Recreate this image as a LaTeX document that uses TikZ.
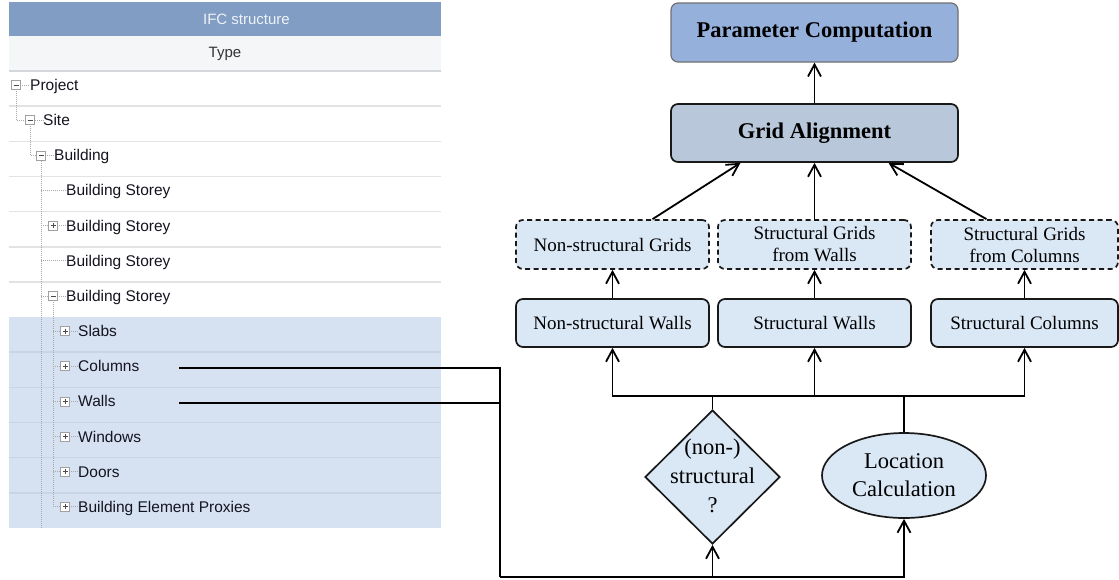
\documentclass[tikz,border=0pt]{standalone}
\usepackage{fontspec}
\setmainfont{Liberation Serif}
\newfontfamily\tabfont{Liberation Sans}
\usetikzlibrary{arrows.meta,shapes.geometric,calc}
\definecolor{hdr}{HTML}{819DC3}
\definecolor{hdrtxt}{HTML}{EEF2F8}
\definecolor{typebg}{HTML}{F4F6F8}
\definecolor{sepdark}{HTML}{D3D6DA}
\definecolor{sepline}{HTML}{E3E3E3}
\definecolor{rowblue}{HTML}{D6E2F1}
\definecolor{sepblue}{HTML}{C9D5E4}
\definecolor{tabink}{HTML}{141420}
\definecolor{dotcol}{HTML}{A8A8A8}
\definecolor{iconborder}{HTML}{A0A0A0}
\definecolor{pcfill}{HTML}{96B0DC}
\definecolor{pcdraw}{HTML}{707070}
\definecolor{gafill}{HTML}{B8C8DA}
\definecolor{lightfill}{HTML}{DAE7F5}
\newcommand{\tminus}[3]{\node[tbox] (#1) at (#2,#3) {};\draw[tsign] ($(#1.center)+(-2.5,0)$) -- ($(#1.center)+(2.5,0)$);}
\newcommand{\tplus}[3]{\node[tbox] (#1) at (#2,#3) {};\draw[tsign] ($(#1.center)+(-2.5,0)$) -- ($(#1.center)+(2.5,0)$);\draw[tsign] ($(#1.center)+(0,-2.5)$) -- ($(#1.center)+(0,2.5)$);}
\begin{document}
\begin{tikzpicture}[x=1pt,y=-1pt,
  tabtxt/.style={anchor=base west,inner sep=0pt,font=\tabfont\fontsize{15.5}{17}\selectfont,text=tabink},
  tdot/.style={draw=dotcol,line width=0.8pt,dash pattern=on 1pt off 1pt},
  tbox/.style={rectangle,draw=iconborder,fill=white,minimum size=9pt,inner sep=0pt,line width=0.6pt},
  tsign/.style={draw=black!70,line width=0.8pt},
  rbox/.style={rectangle,rounded corners=7pt,inner sep=2pt,align=center,line width=1.7pt,draw=black!90},
  pcbox/.style={rbox,fill=pcfill,draw=pcdraw,line width=1.2pt,minimum width=287pt,minimum height=59pt,font=\bfseries\fontsize{22.5}{26}\selectfont},
  gabox/.style={rbox,fill=gafill,minimum width=287pt,minimum height=58pt,font=\bfseries\fontsize{22.5}{26}\selectfont},
  gridbox/.style={rbox,fill=lightfill,dashed,dash pattern=on 5pt off 3.5pt,minimum width=193pt,minimum height=49pt,font=\fontsize{19}{22}\selectfont},
  elbox/.style={rbox,fill=lightfill,minimum width=193pt,minimum height=48pt,font=\fontsize{19}{22}\selectfont},
  diabox/.style={diamond,aspect=1,draw=black!90,fill=lightfill,line width=1.7pt,minimum width=135pt,minimum height=134pt,inner sep=0pt},
  ellbox/.style={ellipse,draw=black!90,fill=lightfill,line width=1.7pt,minimum width=164pt,minimum height=85pt,inner sep=0pt,align=center,font=\fontsize{22.5}{28}\selectfont},
  bigtxt/.style={align=center,inner sep=0pt,font=\fontsize{22.5}{29}\selectfont},
  conn/.style={draw=black,line width=1.8pt},
  arr/.style={conn,-{Straight Barb[length=12pt,width=13pt,line width=1.8pt]}}]
\useasboundingbox (0,0) rectangle (1119,579);
% ---------------- left table ----------------
\fill[hdr] (9,2) rectangle (441,36);
\node[font=\tabfont\fontsize{15}{17}\selectfont,text=hdrtxt,inner sep=0pt] (hdrtext) at (246.5,19) {IFC structure};
\fill[typebg] (9,36) rectangle (441,70);
\node[font=\tabfont\fontsize{15}{17}\selectfont,text=black!80,inner sep=0pt] (typetext) at (225,54) {Type};
\draw[sepdark,line width=2pt] (9,71) -- (441,71);
\fill[rowblue] (9,317.05) rectangle (441,528);
\foreach \yy in {106.15,141.3,176.45,211.6,246.75,281.9}
  \draw[sepline,line width=1.5pt] (9,\yy) -- (441,\yy);
\foreach \yy in {352.2,387.35,422.5,457.65,492.8}
  \draw[sepblue,line width=1.5pt] (9,\yy) -- (441,\yy);
% dotted tree lines
\draw[tdot] (16,85) -- (16,120.15) -- (30,120.15) -- (43,120.15);
\draw[tdot] (16,85) -- (30,85);
\draw[tdot] (30,120.15) -- (30,155.3) -- (54,155.3);
\draw[tdot] (41,155.3) -- (41,528);
\foreach \yy in {190.45,225.6,260.75,295.9}
  \draw[tdot] (41,\yy) -- (66,\yy);
\draw[tdot] (53,295.9) -- (53,506.8);
\foreach \yy in {331.05,366.2,401.35,436.5,471.65,506.8}
  \draw[tdot] (53,\yy) -- (78,\yy);
% icons
\tminus{iproj}{16}{85}
\tminus{isite}{30}{120.15}
\tminus{ibld}{41}{155.3}
\tplus{ist2}{53}{225.6}
\tminus{ist4}{53}{295.9}
\tplus{islab}{65}{331.05}
\tplus{icol}{65}{366.2}
\tplus{iwall}{65}{401.35}
\tplus{iwin}{65}{436.5}
\tplus{idoor}{65}{471.65}
\tplus{iprox}{65}{506.8}
% texts
\node[tabtxt] (tproj) at (30,90.5) {Project};
\node[tabtxt] (tsite) at (43,125.65) {Site};
\node[tabtxt] (tbld) at (54,160.8) {Building};
\node[tabtxt] (tst1) at (66,195.95) {Building Storey};
\node[tabtxt] (tst2) at (66,231.1) {Building Storey};
\node[tabtxt] (tst3) at (66,266.25) {Building Storey};
\node[tabtxt] (tst4) at (66,301.4) {Building Storey};
\node[tabtxt] (tslab) at (78,336.55) {Slabs};
\node[tabtxt] (tcol) at (78,371.7) {Columns};
\node[tabtxt] (twall) at (78,406.85) {Walls};
\node[tabtxt] (twin) at (78,442) {Windows};
\node[tabtxt] (tdoor) at (78,477.15) {Doors};
\node[tabtxt] (tprox) at (78,512.3) {Building Element Proxies};
% ---------------- right flow chart ----------------
\node[pcbox] (pc) at (814.5,32.5) {Parameter Computation};
\node[gabox] (ga) at (814.5,133) {Grid Alignment};
\node[gridbox] (nsg) at (612.5,244.5) {Non-structural Grids};
\node[gridbox] (sgw) at (814.5,244.5) {Structural Grids\\from Walls};
\node[gridbox,minimum width=187pt] (sgc) at (1024.5,244.5) {Structural Grids\\from Columns};
\node[elbox] (nsw) at (612.5,323) {Non-structural Walls};
\node[elbox] (sw) at (814.5,323) {Structural Walls};
\node[elbox,minimum width=187pt] (sc) at (1024.5,323) {Structural Columns};
\node[diabox] (dia) at (712.5,477) {};
\node[bigtxt] (diatxt) at (712.5,476) {(non-)\\structural\\?};
\node[ellbox] (ell) at (904,475.5) {Location\\Calculation};
\coordinate (bus) at (0,396);
\coordinate (cstart) at (179,368);
\coordinate (wstart) at (179,403);
\coordinate (jn) at (500,577);
% connectors
\draw[arr] (ga.north) -- (pc.south);
\draw[arr] ([xshift=40pt]nsg.north) -- ([xshift=-74pt]ga.south);
\draw[arr] (sgw.north) -- (ga.south);
\draw[arr] ([xshift=-38pt]sgc.north) -- ([xshift=74pt]ga.south);
\draw[arr] (nsw.north) -- (nsg.south);
\draw[arr] (sw.north) -- (sgw.south);
\draw[arr] (sc.north) -- (sgc.south);
\draw[arr] (dia.north) -- (dia.north|-bus) -| (nsw.south);
\draw[arr] (ell.north) -- (ell.north|-bus) -| (sc.south);
\draw[conn] (dia.north|-bus) -- (ell.north|-bus);
\draw[arr] (sw.south|-bus) -- (sw.south);
\draw[conn] (cstart) -| (jn);
\draw[conn] (wstart) -- (wstart-|jn);
\draw[arr] (jn) -| (ell.south);
\draw[arr] (dia.south|-jn) -- (dia.south);
\end{tikzpicture}
\end{document}
